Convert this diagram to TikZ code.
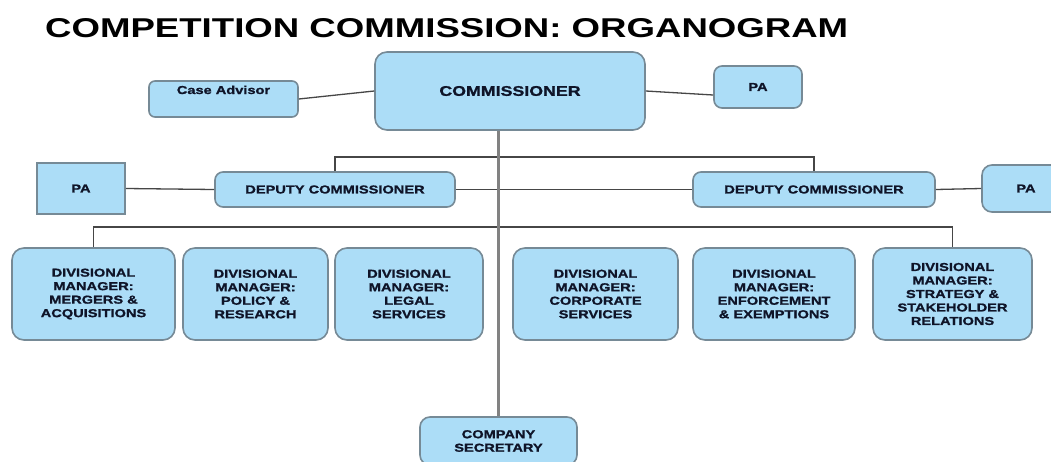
\documentclass[tikz,border=0pt]{standalone}
\usepackage{fontspec}
\usepackage{graphicx}
\setmainfont{Liberation Sans}
\newfontfamily\boxfont[FakeStretch=1.27,FakeBold=1.2]{Liberation Sans}
\definecolor{boxfill}{RGB}{172,221,247}
\definecolor{boxline}{RGB}{118,138,150}
\definecolor{linkcol}{RGB}{70,70,70}
\definecolor{trunkcol}{RGB}{130,130,130}
\definecolor{txtcol}{RGB}{15,20,40}
\tikzset{
  orgbox/.style={draw=boxline, line width=1.6pt, fill=boxfill, rounded corners=#1,
    inner sep=2pt, align=center, text=txtcol,
    font=\boxfont\bfseries\fontsize{11.5}{13.5}\selectfont},
  orgbox/.default=10pt,
  link/.style={draw=linkcol, line width=1.3pt},
  trunk/.style={draw=trunkcol, line width=2.2pt},
}
\begin{document}
\begin{tikzpicture}[x=1pt,y=-1pt]
\useasboundingbox[fill=white] (0,0) rectangle (1051,461);

% title
\node[anchor=base west, inner sep=0pt, text=black] (title) at (45,37)
  {\resizebox{803pt}{19pt}{\bfseries COMPETITION COMMISSION: ORGANOGRAM}};

% top level
\node[orgbox=12pt, minimum width=270pt, minimum height=78pt,
      font=\boxfont\bfseries\fontsize{14}{16}\selectfont] (comm) at (510,91) {COMMISSIONER};
\node[orgbox=6pt, minimum width=149pt, minimum height=36pt, inner ysep=5pt,
      text height=8pt, text depth=18pt] (ca) at (223.5,99) {Case Advisor};
\node[orgbox=8pt, minimum width=88pt, minimum height=42pt] (pa) at (758,87) {PA};

% deputies
\node[orgbox=8pt, minimum width=240pt, minimum height=35pt] (depl) at (335,189.5) {DEPUTY COMMISSIONER};
\node[orgbox=8pt, minimum width=242pt, minimum height=35pt] (depr) at (814,189.5) {DEPUTY COMMISSIONER};
\node[orgbox=0pt, minimum width=88pt, minimum height=51pt] (pal) at (81,188.5) {PA};
\node[orgbox=10pt, minimum width=88pt, minimum height=47pt] (par) at (1026,188.5) {PA};

% divisions
\node[orgbox=12pt, minimum width=163pt, minimum height=92pt] (d1) at (93.5,294)
  {DIVISIONAL\\MANAGER:\\MERGERS \&\\ACQUISITIONS};
\node[orgbox=12pt, minimum width=145pt, minimum height=92pt] (d2) at (255.5,294)
  {DIVISIONAL\\MANAGER:\\POLICY \&\\RESEARCH};
\node[orgbox=12pt, minimum width=148pt, minimum height=92pt] (d3) at (409,294)
  {DIVISIONAL\\MANAGER:\\LEGAL\\SERVICES};
\node[orgbox=12pt, minimum width=165pt, minimum height=92pt] (d4) at (595.5,294)
  {DIVISIONAL\\MANAGER:\\CORPORATE\\SERVICES};
\node[orgbox=12pt, minimum width=162pt, minimum height=92pt] (d5) at (774,294)
  {DIVISIONAL\\MANAGER:\\ENFORCEMENT\\\& EXEMPTIONS};
\node[orgbox=12pt, minimum width=159pt, minimum height=92pt] (d6) at (952.5,294)
  {DIVISIONAL\\MANAGER:\\STRATEGY \&\\STAKEHOLDER\\RELATIONS};

% company secretary
\node[orgbox=10pt, minimum width=157pt, minimum height=48pt] (cs) at (498.5,441)
  {COMPANY\\SECRETARY};

% bus coordinates
\coordinate (bus1) at (498,157);
\coordinate (bus2) at (498,227);

% connectors
\draw[link] (ca.east) -- (comm.west);
\draw[link] (comm.east) -- ([yshift=-8pt]pa.west);
\draw[link] (pal.east) -- (depl.west);
\draw[link] (depl.east) -- (depr.west);
\draw[link] (depr.east) -- (par.west);
\draw[link] (depl.north) |- (bus1) -| (depr.north);
\draw[link] (d1.north) |- (bus2) -| (d6.north);
\draw[trunk] (comm.south -| cs.north) -- (cs.north);
\end{tikzpicture}
\end{document}
